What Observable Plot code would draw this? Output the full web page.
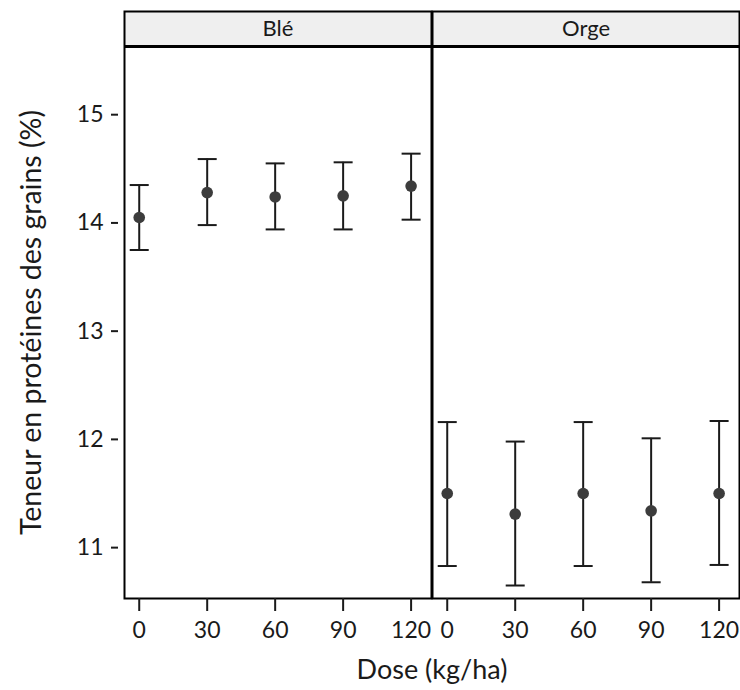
<!DOCTYPE html>
<html>
<head>
<meta charset="utf-8">
<script src="https://cdn.jsdelivr.net/npm/d3@7"></script>
<script src="https://cdn.jsdelivr.net/npm/@observablehq/plot@0.6"></script>
<style>
  body { margin: 0; background: #fff; }
</style>
</head>
<body>
<div id="chart"></div>
<script>
// Grain protein content (%) by nitrogen dose, mean with interval
const crops = ["Blé", "Orge"];
const doses = [0, 30, 60, 90, 120];

const bleMean = [14.05, 14.28, 14.24, 14.25, 14.34];
const bleLow  = [13.75, 13.98, 13.94, 13.94, 14.03];
const bleHigh = [14.35, 14.59, 14.55, 14.56, 14.64];

const orgeMean = [11.50, 11.31, 11.50, 11.34, 11.50];
const orgeLow  = [10.83, 10.65, 10.83, 10.68, 10.84];
const orgeHigh = [12.16, 11.98, 12.16, 12.01, 12.17];

const yTicks = [11, 12, 13, 14, 15];

const series = {
  "Blé":  {mean: bleMean,  low: bleLow,  high: bleHigh},
  "Orge": {mean: orgeMean, low: orgeLow, high: orgeHigh}
};

const rows = crops.flatMap(crop => doses.map((dose, i) => ({
  crop,
  dose,
  mean: series[crop].mean[i],
  low: series[crop].low[i],
  high: series[crop].high[i]
})));

const yDomain = [10.53, 15.63];
const stripTop = 15.955;
const yMid = (yDomain[0] + yDomain[1]) / 2;

// horizontal bar used as an error-bar cap
const cap = {
  draw(context, size) {
    const r = Math.sqrt(size / Math.PI);
    context.moveTo(-r, 0);
    context.lineTo(r, 0);
  }
};

const ink = "#1a1a1a";

const chart = Plot.plot({
  width: 740,
  height: 690,
  marginLeft: 124,
  marginRight: 1,
  marginTop: 11,
  marginBottom: 92,
  style: {fontFamily: "Lato, sans-serif", fontSize: "23px", color: ink, background: "#fff"},
  fx: {domain: crops, paddingInner: 0.0033, paddingOuter: 0, round: false, label: null},
  x: {domain: [-6.5, 129]},
  y: {domain: yDomain, range: [598, 46]},
  marks: [
    // facet strips
    Plot.rect(crops, {fx: d => d, y1: yDomain[1], y2: stripTop, fill: "#efefef"}),
    Plot.ruleY([yDomain[1]], {stroke: "black", strokeWidth: 3}),
    Plot.text(crops, {fx: d => d, text: d => d, y: (yDomain[1] + stripTop) / 2, fontSize: 22, fill: ink}),
    Plot.frame({stroke: "black", strokeWidth: 2}),

    // axes
    Plot.axisX({ticks: doses, tickSize: 13, tickPadding: 10, fontSize: 23, strokeWidth: 2, label: null}),
    Plot.axisY({ticks: yTicks, tickFormat: "d", tickSize: 7, dx: -6, tickPadding: 8, fontSize: 23, strokeWidth: 2, label: null}),
    Plot.axisFx({anchor: "bottom", tickSize: 0, tickFormat: () => "", label: "Dose (kg/ha)", labelAnchor: "center", labelOffset: 80, fontSize: 27}),
    Plot.text(["Teneur en protéines des grains (%)"], {fx: ["Blé"], frameAnchor: "left", textAnchor: "middle", y: [yMid], rotate: -90, dx: -93, fontSize: 28.5, fill: ink}),

    // error bars
    Plot.ruleX(rows, {fx: "crop", x: "dose", y1: "low", y2: "high", stroke: ink, strokeWidth: 2}),
    Plot.dot(rows, {fx: "crop", x: "dose", y: "low", symbol: cap, r: 9.5, stroke: ink, fill: "none", strokeWidth: 2}),
    Plot.dot(rows, {fx: "crop", x: "dose", y: "high", symbol: cap, r: 9.5, stroke: ink, fill: "none", strokeWidth: 2}),

    // means
    Plot.dot(rows, {fx: "crop", x: "dose", y: "mean", r: 5.8, fill: "#3c3c3c", stroke: "none"})
  ]
});

document.getElementById("chart").appendChild(chart);
</script>
</body>
</html>
